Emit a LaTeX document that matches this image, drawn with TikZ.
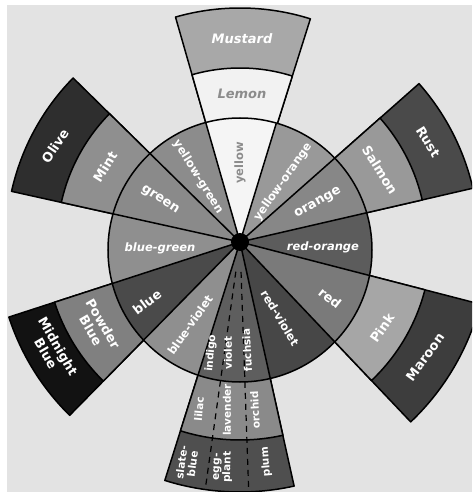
\documentclass[tikz,border=0pt]{standalone}
\usepackage{fontspec}
\setsansfont{DejaVu Sans}
\usepackage{xcolor}
\usepackage{tikz}

% grey values of the colour names
\definecolor{bg}{gray}{0.89}
\definecolor{mustard}{gray}{0.66}
\definecolor{lemon}{gray}{0.95}
\definecolor{yel}{gray}{0.96}
\definecolor{yelgreen}{gray}{0.55}
\definecolor{green}{gray}{0.54}
\definecolor{bluegreen}{gray}{0.56}
\definecolor{blue}{gray}{0.29}
\definecolor{blueviolet}{gray}{0.56}
\definecolor{violet}{gray}{0.37}
\definecolor{redviolet}{gray}{0.28}
\definecolor{red}{gray}{0.48}
\definecolor{redorange}{gray}{0.36}
\definecolor{orange}{gray}{0.53}
\definecolor{yelorange}{gray}{0.60}
\definecolor{mint}{gray}{0.56}
\definecolor{olive}{gray}{0.18}
\definecolor{salmon}{gray}{0.60}
\definecolor{rust}{gray}{0.29}
\definecolor{pink}{gray}{0.65}
\definecolor{maroon}{gray}{0.24}
\definecolor{powder}{gray}{0.50}
\definecolor{midnight}{gray}{0.07}
\definecolor{lilac}{gray}{0.54}
\definecolor{slate}{gray}{0.31}
\definecolor{paletext}{gray}{0.55}

% one label
\newcommand{\colourtag}[5]{%
  \node[#1, rotate=#4] (#2) at (#3) {#5};}

% one outer ring piece
\newcommand{\petal}[4]{%
  \filldraw[edge, fill=#1] (0,0) -- (#2:#4) arc[start angle=#2, end angle=#3, radius=#4] -- cycle;}

\begin{document}
\begin{tikzpicture}[x=1pt, y=1pt,
    edge/.style={draw=black, line width=1.5pt, line join=round},
    split/.style={draw=black, line width=1.2pt, dash pattern=on 6pt off 5pt},
    big/.style={font=\sffamily\bfseries\fontsize{13}{14}\selectfont, text=white, align=center, inner sep=0pt},
    mid/.style={font=\sffamily\bfseries\fontsize{11.5}{12}\selectfont, text=white, align=center, inner sep=0pt},
    sml/.style={font=\sffamily\bfseries\fontsize{10.5}{11}\selectfont, text=white, align=center, inner sep=0pt},
    pale/.style={text=paletext}]

  \useasboundingbox (-240,-250) rectangle (232,242);
  \clip (-240,-250) rectangle (232,242);
  \fill[white] (-240,-250) rectangle (232,242);
  \fill[bg] (-233,-250) rectangle (232,237);

  % outer rings
  \petal{mustard}{72.5}{106}{234}
  \petal{lemon}{72.5}{106}{174}
  \petal{olive}{135.5}{167.5}{234}
  \petal{mint}{135.5}{167.5}{183}
  \petal{rust}{13}{41.5}{239}
  \petal{salmon}{13}{41.5}{187}
  \petal{maroon}{-46.5}{-14.5}{248}
  \petal{pink}{-46.5}{-14.5}{191}
  \petal{midnight}{198}{225.5}{243}
  \petal{powder}{198}{225.5}{195}
  \petal{slate}{-107.5}{-77.5}{250}
  \petal{lilac}{-107.5}{-77.5}{198}

  % the wheel
  \begin{scope}
    \clip (0,-8) circle (132);
    \foreach \a/\b/\c in {73/106/yel, 106/135.5/yelgreen, 135.5/167.5/green,
        167.5/198/bluegreen, 198/225.5/blue, 225.5/252.5/blueviolet,
        252.5/282.5/violet, 282.5/313.5/redviolet, 313.5/345.5/red,
        345.5/373/redorange, 13/41.5/orange, 41.5/73/yelorange}
      \fill[\c] (0,0) -- (\a:300) -- (\b:300) -- cycle;
    \foreach \a in {73, 106, 135.5, 167.5, 198, 225.5, 252.5, 282.5, 313.5, 345.5, 13, 41.5}
      \draw[edge] (0,0) -- (\a:300);
  \end{scope}
  \draw[edge] (0,-8) circle (132);

  % violet split in three
  \draw[split] (-98:30) -- (-98:250);
  \draw[split] (-88:30) -- (-88:250);
  \fill (0,0) circle (9);

  % labels
  \colourtag{big}{mustard}{2,203}{0}{\itshape Mustard}
  \colourtag{big,pale}{lemon}{2,148}{0}{\itshape Lemon}
  \colourtag{mid,pale}{yellow}{0,79}{90}{yellow}
  \colourtag{mid}{yelgreen}{-42,65}{-58}{yellow-green}
  \colourtag{mid}{yelorange}{43,60}{55}{yellow-orange}
  \colourtag{big}{green}{-80,42}{-33}{green}
  \colourtag{big}{orange}{78,39}{29}{orange}
  \colourtag{mid}{bluegreen}{-80,-6}{0}{\itshape blue-green}
  \colourtag{mid}{redorange}{83,-5}{0}{\itshape red-orange}
  \colourtag{big}{red}{90,-56}{-38}{red}
  \colourtag{mid}{redviolet}{40,-76}{-59}{red-violet}
  \colourtag{sml}{fuchsia}{7,-108}{93}{fuchsia}
  \colourtag{sml}{violet}{-12,-111}{90}{violet}
  \colourtag{sml}{indigo}{-29,-111}{85}{indigo}
  \colourtag{mid}{blueviolet}{-50,-83}{55}{blue-violet}
  \colourtag{big}{blue}{-93,-60}{37}{blue}
  \colourtag{sml}{lilac}{-41,-167}{85}{lilac}
  \colourtag{sml}{lavender}{-13,-168}{90}{lavender}
  \colourtag{sml}{orchid}{15,-168}{93}{orchid}
  \colourtag{sml}{slateblue}{-53,-221}{82}{slate-\\blue}
  \colourtag{sml}{eggplant}{-17,-225}{88}{egg-\\plant}
  \colourtag{sml}{plum}{26,-220}{95}{plum}
  \colourtag{big}{mint}{-135,75}{58}{Mint}
  \colourtag{big}{olive}{-185,96}{56}{Olive}
  \colourtag{big}{salmon}{140,72}{-58}{Salmon}
  \colourtag{big}{rust}{188,100}{-58}{Rust}
  \colourtag{big}{pink}{142,-86}{55}{Pink}
  \colourtag{big}{maroon}{185,-115}{54}{Maroon}
  \colourtag{big}{powder}{-143,-85}{-60}{Powder\\Blue}
  \colourtag{big}{midnight}{-188,-108}{-60}{Midnight\\Blue}
\end{tikzpicture}
\end{document}
